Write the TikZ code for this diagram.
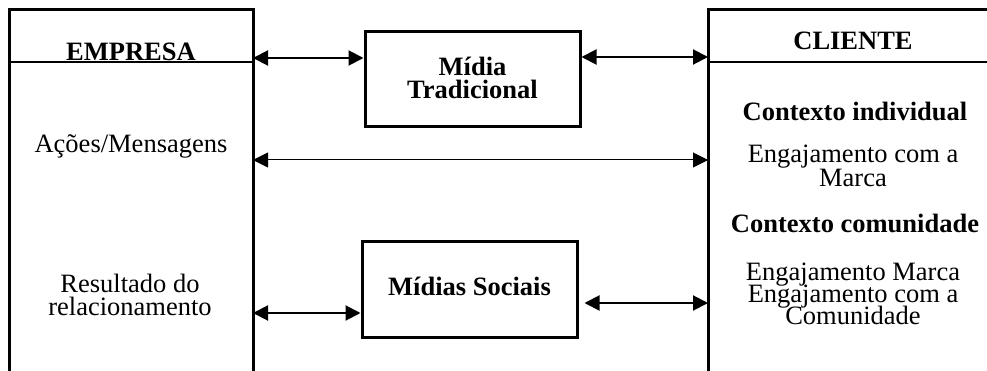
\documentclass[tikz,border=0pt]{standalone}
\usepackage{fontspec}
\setmainfont{Liberation Serif}
\usetikzlibrary{arrows.meta}
% allow lines to sit closer than their natural heights
\newcommand\tightlines{\lineskiplimit=-100pt\relax}
\begin{document}
\begin{tikzpicture}[x=1pt,y=-1pt,
  panel/.style={line width=3pt},
  rule/.style={line width=2pt},
  media/.style={draw,line width=3pt,minimum width=215pt,minimum height=95pt,
    align=center,inner sep=0pt,
    font={\bfseries\fontsize{26.5}{23}\selectfont\tightlines}},
  txt/.style={align=center,inner sep=0pt,
    font={\fontsize{26.5}{22.5}\selectfont\tightlines}},
  head/.style={align=center,inner sep=0pt,
    font={\bfseries\fontsize{26.5}{22.5}\selectfont}},
  link/.style={{Triangle[length=15pt,width=15pt]}-{Triangle[length=15pt,width=15pt]},
    line width=2pt},
  thinlink/.style={link,line width=1pt}]

% page frame
\useasboundingbox (0,0) rectangle (987,371);

% company panel (open at the bottom)
\draw[panel] (9,371) -- (9,10) -- (253,10) -- (253,371);
\draw[rule] (11,62) -- (253,62);
% client panel (open at the bottom and on the right)
\draw[panel] (708,371) -- (708,10) -- (987,10);
\draw[rule] (708,62) -- (987,62);

% attachment points on the panel edges
\coordinate (eA) at (253,58);
\coordinate (eB) at (253,160);
\coordinate (eC) at (253,313);
\coordinate (cA) at (708,57);
\coordinate (cB) at (708,160);
\coordinate (cC) at (708,303);

% media boxes
\node[media,text depth=4pt] (trad) at (472.5,79.5) {Mídia\\Tradicional};
\node[media,text depth=7pt] (soc) at (469.5,289.5) {Mídias Sociais};

% company texts
\node[head,anchor=base] (empresa) at (131,61) {EMPRESA};
\node[txt,anchor=base] (acoes) at (131,153) {Ações/Mensagens};
\node[txt,font={\fontsize{26.5}{23}\selectfont\tightlines}] (result) at (130,294.5) {Resultado do\\relacionamento};

% client texts
\node[head,anchor=base] (cliente) at (853,50) {CLIENTE};
\node[head,anchor=base] (ctxInd) at (855,121) {Contexto individual};
\node[txt,font={\fontsize{26.5}{24}\selectfont\tightlines}] (engInd) at (853,166) {Engajamento com a\\Marca};
\node[head,anchor=base] (ctxCom) at (855,233) {Contexto comunidade};
\node[txt,font={\fontsize{26.5}{22}\selectfont\tightlines}] (engCom) at (853,294) {Engajamento Marca\\Engajamento com a\\Comunidade};

% connectors
\draw[link] (eA) -- (eA -| trad.west);
\draw[link] (trad.east |- cA) -- (cA);
\draw[thinlink] (eB) -- (cB);
\draw[link] (eC) -- (eC -| soc.west);
\draw[link,shorten <=6pt] (soc.east |- cC) -- (cC);
\end{tikzpicture}
\end{document}
